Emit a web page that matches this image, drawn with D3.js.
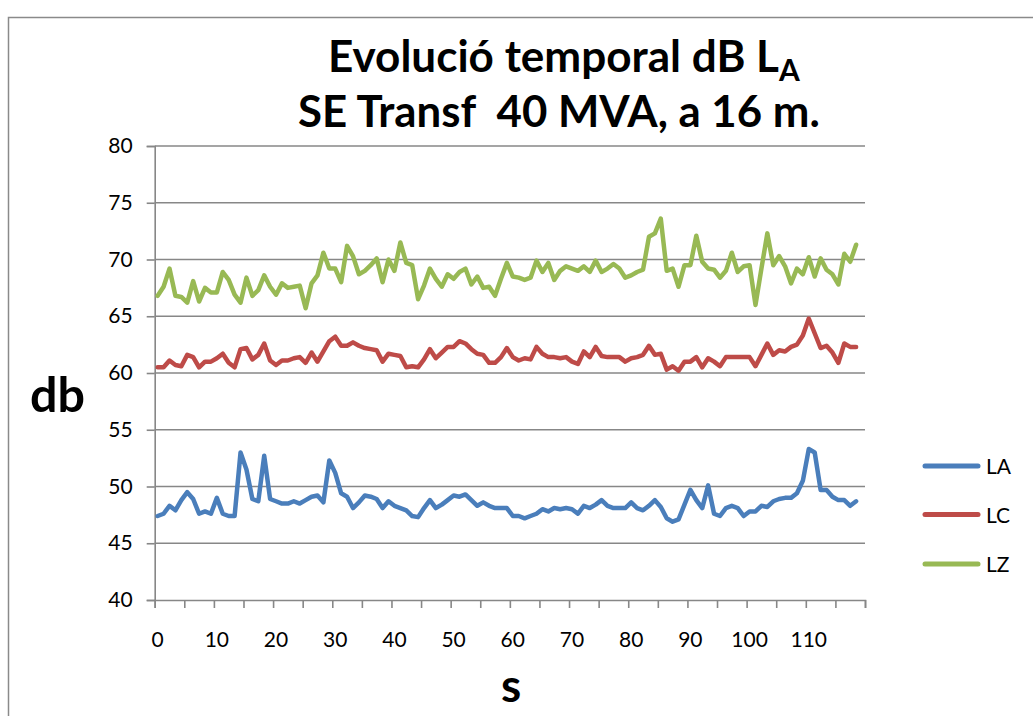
<!DOCTYPE html>
<html>
<head>
<meta charset="utf-8">
<script src="https://cdn.jsdelivr.net/npm/d3@7"></script>
<style>
  html, body { margin: 0; padding: 0; background: #ffffff; }
  svg { display: block; }
</style>
</head>
<body>
<svg id="chart" width="1033" height="716"></svg>
<script>
// ---------- data ----------
const seriesNames = ["LA", "LC", "LZ"];
const seriesColors = ["#4A7EBB", "#BE4B48", "#98B954"];
const xTickLabels = [0, 10, 20, 30, 40, 50, 60, 70, 80, 90, 100, 110];
const yTickLabels = [40, 45, 50, 55, 60, 65, 70, 75, 80];
const categoryCount = 120;

const LA = [47.4, 47.6, 48.3, 47.9, 48.8, 49.5, 48.9, 47.6, 47.8, 47.6,
  49.0, 47.6, 47.4, 47.4, 53.0, 51.5, 48.9, 48.7, 52.7, 48.9,
  48.7, 48.5, 48.5, 48.7, 48.5, 48.8, 49.1, 49.2, 48.6, 52.3,
  51.2, 49.4, 49.1, 48.1, 48.6, 49.2, 49.1, 48.9, 48.1, 48.7,
  48.3, 48.1, 47.9, 47.4, 47.3, 48.1, 48.8, 48.1, 48.4, 48.8,
  49.2, 49.1, 49.3, 48.8, 48.3, 48.6, 48.3, 48.1, 48.1, 48.1,
  47.4, 47.4, 47.2, 47.4, 47.6, 48.0, 47.8, 48.1, 48.0, 48.1,
  48.0, 47.6, 48.3, 48.1, 48.4, 48.8, 48.3, 48.1, 48.1, 48.1,
  48.6, 48.1, 47.9, 48.3, 48.8, 48.2, 47.2, 46.9, 47.1, 48.4,
  49.7, 48.8, 48.1, 50.1, 47.6, 47.4, 48.1, 48.3, 48.1, 47.4,
  47.8, 47.8, 48.3, 48.2, 48.7, 48.9, 49.0, 49.0, 49.4, 50.5,
  53.3, 53.0, 49.7, 49.7, 49.1, 48.8, 48.8, 48.3, 48.7];

const LC = [60.5, 60.5, 61.1, 60.7, 60.6, 61.6, 61.4, 60.5, 61.0, 61.0,
  61.3, 61.7, 60.9, 60.5, 62.1, 62.2, 61.2, 61.6, 62.6, 61.1,
  60.7, 61.1, 61.1, 61.3, 61.4, 60.9, 61.8, 61.0, 61.9, 62.8,
  63.2, 62.4, 62.4, 62.7, 62.4, 62.2, 62.1, 62.0, 61.0, 61.7,
  61.6, 61.5, 60.5, 60.6, 60.5, 61.2, 62.1, 61.3, 61.8, 62.3,
  62.3, 62.8, 62.6, 62.1, 61.7, 61.6, 60.9, 60.9, 61.4, 62.2,
  61.4, 61.1, 61.3, 61.2, 62.3, 61.7, 61.4, 61.4, 61.3, 61.4,
  61.0, 60.8, 61.9, 61.4, 62.3, 61.5, 61.4, 61.4, 61.4, 61.0,
  61.3, 61.4, 61.6, 62.4, 61.6, 61.7, 60.3, 60.6, 60.2, 61.0,
  61.0, 61.4, 60.5, 61.3, 61.0, 60.6, 61.4, 61.4, 61.4, 61.4,
  61.4, 60.6, 61.6, 62.6, 61.6, 62.0, 61.9, 62.3, 62.5, 63.3,
  64.8, 63.5, 62.2, 62.4, 61.8, 60.9, 62.6, 62.3, 62.3];

const LZ = [66.8, 67.6, 69.2, 66.8, 66.7, 66.2, 68.1, 66.3, 67.5, 67.1,
  67.1, 68.9, 68.2, 66.9, 66.2, 68.4, 66.8, 67.3, 68.6, 67.6,
  66.9, 67.9, 67.5, 67.6, 67.7, 65.7, 67.9, 68.6, 70.6, 69.2,
  69.2, 68.0, 71.2, 70.3, 68.7, 69.0, 69.5, 70.1, 68.0, 70.0,
  69.0, 71.5, 69.7, 69.5, 66.5, 67.7, 69.2, 68.3, 67.6, 68.7,
  68.3, 68.9, 69.2, 67.8, 68.5, 67.5, 67.6, 66.8, 68.3, 69.7,
  68.5, 68.4, 68.2, 68.4, 69.9, 68.9, 69.7, 68.2, 69.0, 69.4,
  69.2, 69.0, 69.4, 68.9, 69.9, 68.9, 69.2, 69.6, 69.2, 68.4,
  68.6, 68.9, 69.1, 72.0, 72.3, 73.6, 69.0, 69.2, 67.6, 69.5,
  69.5, 72.1, 69.8, 69.2, 69.1, 68.4, 69.0, 70.6, 68.9, 69.4,
  69.5, 66.0, 69.2, 72.3, 69.5, 70.3, 69.4, 67.9, 69.2, 68.7,
  70.2, 68.5, 70.1, 69.1, 68.7, 67.8, 70.5, 69.8, 71.3];

const titleLine1 = "Evolució temporal dB L";
const titleSub = "A";
const titleLine2 = "SE Transf  40 MVA, a 16 m.";
const yAxisTitle = "db";
const xAxisTitle = "s";

// ---------- drawing ----------
const svg = d3.select("#chart");
const FONT = "Lato, 'Open Sans', sans-serif";
const gridColor = "#878787";

const plotLeft = 154.7, plotRight = 865, plotTop = 146, plotBottom = 600;

// chart frame
svg.append("rect")
  .attr("x", 8.5).attr("y", 17.5)
  .attr("width", 1100).attr("height", 800)
  .attr("fill", "none").attr("stroke", "#8a8a8a").attr("stroke-width", 1.5);

const x = d3.scaleLinear().domain([0, categoryCount]).range([plotLeft, plotRight]);
const y = d3.scaleLinear().domain([40, 80]).range([plotBottom, plotTop]);

// gridlines
svg.append("g").selectAll("line")
  .data(yTickLabels.filter(v => v > 40))
  .join("line")
  .attr("x1", plotLeft).attr("x2", plotRight)
  .attr("y1", d => y(d)).attr("y2", d => y(d))
  .attr("stroke", gridColor).attr("stroke-width", 1.6);

// y axis
const yAxis = d3.axisLeft(y).tickValues(yTickLabels).tickSize(8).tickPadding(14)
  .tickFormat(d3.format("d"));
const gy = svg.append("g").attr("transform", `translate(${plotLeft},0)`).call(yAxis);
gy.select(".domain").attr("stroke", gridColor).attr("stroke-width", 1.6);
gy.selectAll(".tick line").attr("stroke", gridColor).attr("stroke-width", 1.6);
gy.selectAll(".tick text").attr("font-family", FONT).attr("font-size", 21)
  .attr("fill", "#000");

// x axis: tick marks every 5 categories, labels every 10
const xTickMarks = d3.range(0, categoryCount + 1, 5);
const xAxis = d3.axisBottom(x).tickValues(xTickMarks).tickSize(8).tickFormat("");
const gx = svg.append("g").attr("transform", `translate(0,${plotBottom})`).call(xAxis);
gx.select(".domain").attr("stroke", gridColor).attr("stroke-width", 1.6);
gx.selectAll(".tick line").attr("stroke", gridColor).attr("stroke-width", 1.6);

svg.append("g").selectAll("text")
  .data(xTickLabels)
  .join("text")
  .attr("x", d => x(d + 0.5))
  .attr("y", 647)
  .attr("text-anchor", "middle")
  .attr("font-family", FONT).attr("font-size", 21)
  .text(d => d);

// series lines
const allSeries = [LA, LC, LZ];
const line = d3.line().x((d, i) => x(i + 0.5)).y(d => y(d));
svg.append("g").selectAll("path")
  .data(allSeries)
  .join("path")
  .attr("d", d => line(d))
  .attr("fill", "none")
  .attr("stroke", (d, i) => seriesColors[i])
  .attr("stroke-width", 4.5)
  .attr("stroke-linejoin", "round")
  .attr("stroke-linecap", "round");

// legend
const legendY = [466, 514.5, 564];
const lg = svg.append("g");
seriesNames.forEach((name, i) => {
  lg.append("line")
    .attr("x1", 925).attr("x2", 978)
    .attr("y1", legendY[i]).attr("y2", legendY[i])
    .attr("stroke", seriesColors[i]).attr("stroke-width", 5)
    .attr("stroke-linecap", "round");
  lg.append("text")
    .attr("x", 986).attr("y", legendY[i] + 8)
    .attr("font-family", FONT).attr("font-size", 21)
    .text(name);
});

// helper: fit a text element's width
function fitWidth(sel, target) {
  const w = sel.node().getComputedTextLength();
  const fs = parseFloat(sel.attr("font-size"));
  sel.attr("font-size", fs * target / w);
}

// title
const t1 = svg.append("text")
  .attr("x", 328).attr("y", 72)
  .attr("font-family", FONT).attr("font-weight", "bold").attr("font-size", 42);
t1.append("tspan").text(titleLine1);
t1.append("tspan").attr("font-size", "0.68em").attr("dy", 9).text(titleSub);
fitWidth(t1, 472);

const t2 = svg.append("text")
  .attr("x", 298).attr("y", 127)
  .attr("font-family", FONT).attr("font-weight", "bold").attr("font-size", 42)
  .text(titleLine2);
t2.attr("xml:space", "preserve").style("white-space", "pre");
fitWidth(t2, 522);

// axis titles
const ty = svg.append("text")
  .attr("x", 30).attr("y", 412)
  .attr("font-family", FONT).attr("font-weight", "bold").attr("font-size", 44)
  .text(yAxisTitle);
fitWidth(ty, 55);

const tx = svg.append("text")
  .attr("x", 511).attr("y", 702)
  .attr("text-anchor", "middle")
  .attr("font-family", FONT).attr("font-weight", "bold").attr("font-size", 46)
  .text(xAxisTitle);
</script>
</body>
</html>
